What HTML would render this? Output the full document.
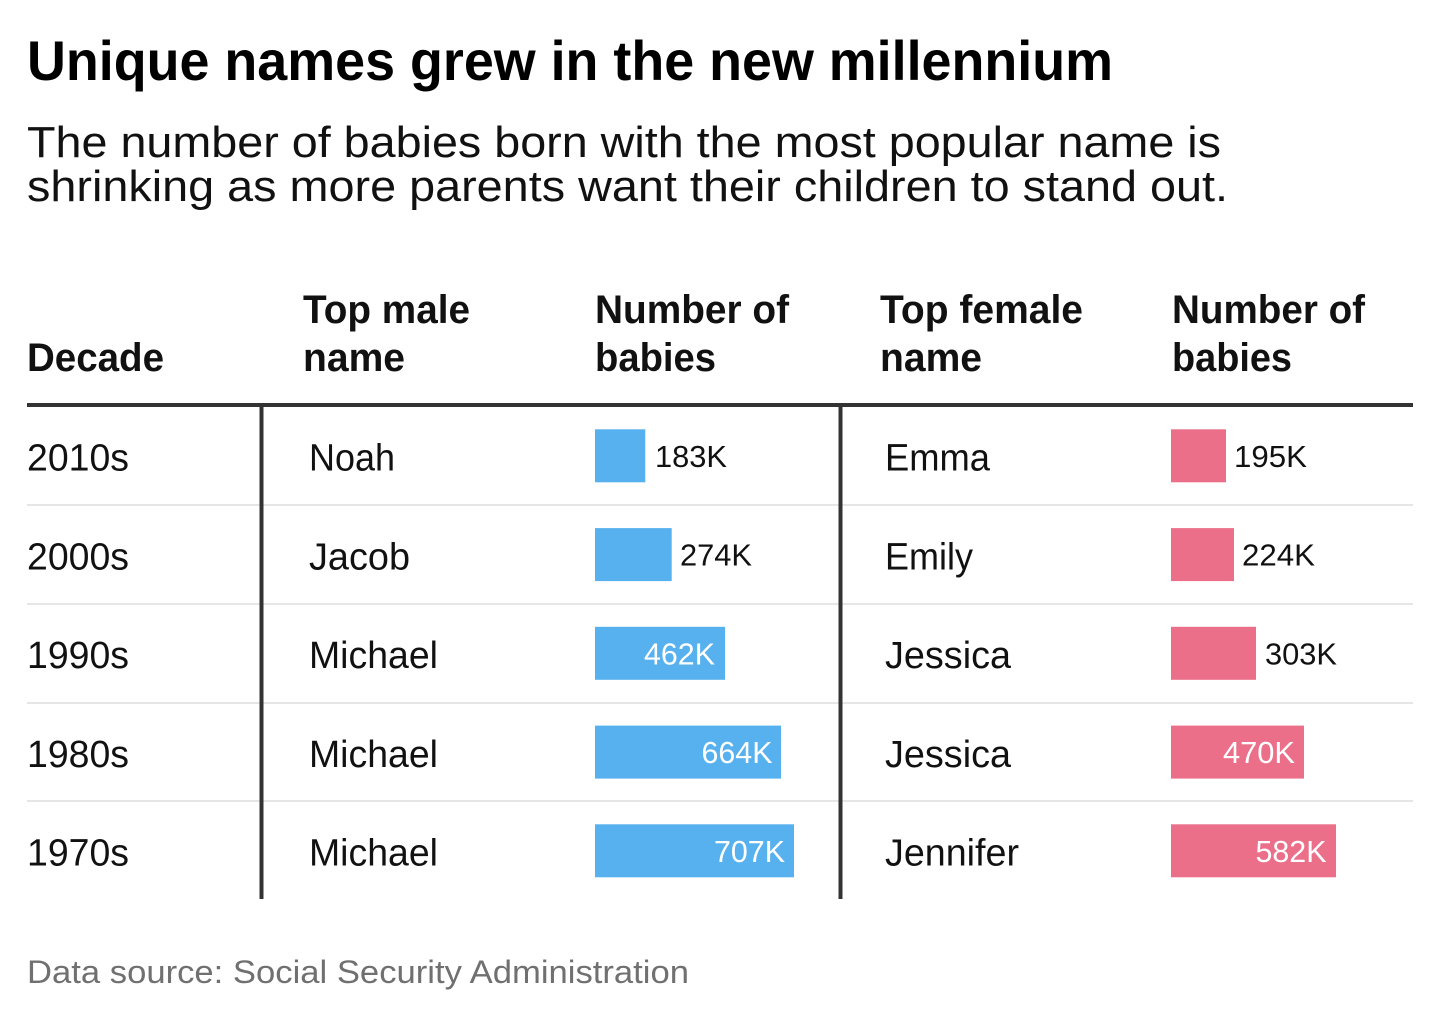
<!DOCTYPE html>
<html>
<head>
<meta charset="utf-8">
<style>
  html,body{margin:0;padding:0;background:#fff;}
  svg{display:block;}
  text{font-family:"Liberation Sans",Arial,sans-serif;}
  .t{font-weight:bold;font-size:56px;fill:#000;}
  .s{font-size:44px;fill:#111;}
  .h{font-weight:bold;font-size:40px;fill:#111;}
  .b{font-size:38px;fill:#111;}
  .l{font-size:31px;fill:#111;}
  .w{font-size:31px;fill:#fff;}
  .f{font-size:32px;fill:#707070;}
</style>
</head>
<body>
<svg width="1440" height="1019" viewBox="0 0 1440 1019" xmlns="http://www.w3.org/2000/svg">
  <rect width="1440" height="1019" fill="#fff"/>
  <text class="t" x="27" y="80" textLength="1086" lengthAdjust="spacingAndGlyphs">Unique names grew in the new millennium</text>
  <text class="s" x="27" y="157" textLength="1194" lengthAdjust="spacingAndGlyphs">The number of babies born with the most popular name is</text>
  <text class="s" x="27" y="201" textLength="1201" lengthAdjust="spacingAndGlyphs">shrinking as more parents want their children to stand out.</text>

  <!-- headers -->
  <text class="h" x="27" y="371" textLength="137" lengthAdjust="spacingAndGlyphs">Decade</text>
  <text class="h" x="303" y="323" textLength="167" lengthAdjust="spacingAndGlyphs">Top male</text>
  <text class="h" x="303" y="371" textLength="102" lengthAdjust="spacingAndGlyphs">name</text>
  <text class="h" x="595" y="323" textLength="194" lengthAdjust="spacingAndGlyphs">Number of</text>
  <text class="h" x="595" y="371" textLength="121" lengthAdjust="spacingAndGlyphs">babies</text>
  <text class="h" x="880" y="323" textLength="203" lengthAdjust="spacingAndGlyphs">Top female</text>
  <text class="h" x="880" y="371" textLength="102" lengthAdjust="spacingAndGlyphs">name</text>
  <text class="h" x="1172" y="323" textLength="193" lengthAdjust="spacingAndGlyphs">Number of</text>
  <text class="h" x="1172" y="371" textLength="120" lengthAdjust="spacingAndGlyphs">babies</text>

  <!-- header rule -->
  <rect x="27" y="403" width="1386" height="4" fill="#333"/>

  <!-- row separators -->
  <rect x="27" y="504" width="1386" height="2" fill="#e6e6e6"/>
  <rect x="27" y="603" width="1386" height="2" fill="#e6e6e6"/>
  <rect x="27" y="702" width="1386" height="2" fill="#e6e6e6"/>
  <rect x="27" y="800" width="1386" height="2" fill="#e6e6e6"/>

  <!-- vertical rules -->
  <rect x="259.5" y="405" width="4" height="494" fill="#333"/>
  <rect x="838.5" y="405" width="4" height="494" fill="#333"/>

  <!-- Row 1 -->
  <text class="b" x="27" y="470.5" textLength="102" lengthAdjust="spacingAndGlyphs">2010s</text>
  <text class="b" x="309" y="470.5" textLength="86" lengthAdjust="spacingAndGlyphs">Noah</text>
  <rect x="595" y="429.3" width="50.3" height="53" fill="#58b1ef"/>
  <text class="l" x="655" y="466.8" textLength="72" lengthAdjust="spacingAndGlyphs">183K</text>
  <text class="b" x="885" y="470.5" textLength="105" lengthAdjust="spacingAndGlyphs">Emma</text>
  <rect x="1171" y="429.3" width="55" height="53" fill="#ec6f8a"/>
  <text class="l" x="1234" y="466.8" textLength="73" lengthAdjust="spacingAndGlyphs">195K</text>

  <!-- Row 2 -->
  <text class="b" x="27" y="569.3" textLength="102" lengthAdjust="spacingAndGlyphs">2000s</text>
  <text class="b" x="309" y="569.3" textLength="101" lengthAdjust="spacingAndGlyphs">Jacob</text>
  <rect x="595" y="528.1" width="76.7" height="53" fill="#58b1ef"/>
  <text class="l" x="680" y="565.6" textLength="72" lengthAdjust="spacingAndGlyphs">274K</text>
  <text class="b" x="885" y="569.3" textLength="88" lengthAdjust="spacingAndGlyphs">Emily</text>
  <rect x="1171" y="528.1" width="63" height="53" fill="#ec6f8a"/>
  <text class="l" x="1242" y="565.6" textLength="73" lengthAdjust="spacingAndGlyphs">224K</text>

  <!-- Row 3 -->
  <text class="b" x="27" y="668" textLength="102" lengthAdjust="spacingAndGlyphs">1990s</text>
  <text class="b" x="309" y="668" textLength="129" lengthAdjust="spacingAndGlyphs">Michael</text>
  <rect x="595" y="626.8" width="130" height="53" fill="#58b1ef"/>
  <text class="w" x="644" y="664.3" textLength="71" lengthAdjust="spacingAndGlyphs">462K</text>
  <text class="b" x="885" y="668" textLength="126" lengthAdjust="spacingAndGlyphs">Jessica</text>
  <rect x="1171" y="626.8" width="85" height="53" fill="#ec6f8a"/>
  <text class="l" x="1265" y="664.3" textLength="72" lengthAdjust="spacingAndGlyphs">303K</text>

  <!-- Row 4 -->
  <text class="b" x="27" y="766.8" textLength="102" lengthAdjust="spacingAndGlyphs">1980s</text>
  <text class="b" x="309" y="766.8" textLength="129" lengthAdjust="spacingAndGlyphs">Michael</text>
  <rect x="595" y="725.6" width="186" height="53" fill="#58b1ef"/>
  <text class="w" x="701.5" y="763.1" textLength="71" lengthAdjust="spacingAndGlyphs">664K</text>
  <text class="b" x="885" y="766.8" textLength="126" lengthAdjust="spacingAndGlyphs">Jessica</text>
  <rect x="1171" y="725.6" width="133" height="53" fill="#ec6f8a"/>
  <text class="w" x="1223" y="763.1" textLength="72" lengthAdjust="spacingAndGlyphs">470K</text>

  <!-- Row 5 -->
  <text class="b" x="27" y="865.5" textLength="102" lengthAdjust="spacingAndGlyphs">1970s</text>
  <text class="b" x="309" y="865.5" textLength="129" lengthAdjust="spacingAndGlyphs">Michael</text>
  <rect x="595" y="824.3" width="199" height="53" fill="#58b1ef"/>
  <text class="w" x="714" y="861.8" textLength="71" lengthAdjust="spacingAndGlyphs">707K</text>
  <text class="b" x="885" y="865.5" textLength="134" lengthAdjust="spacingAndGlyphs">Jennifer</text>
  <rect x="1171" y="824.3" width="165" height="53" fill="#ec6f8a"/>
  <text class="w" x="1255.5" y="861.8" textLength="71" lengthAdjust="spacingAndGlyphs">582K</text>

  <!-- footer -->
  <text class="f" x="27" y="983" textLength="662" lengthAdjust="spacingAndGlyphs">Data source: Social Security Administration</text>
</svg>
</body>
</html>
